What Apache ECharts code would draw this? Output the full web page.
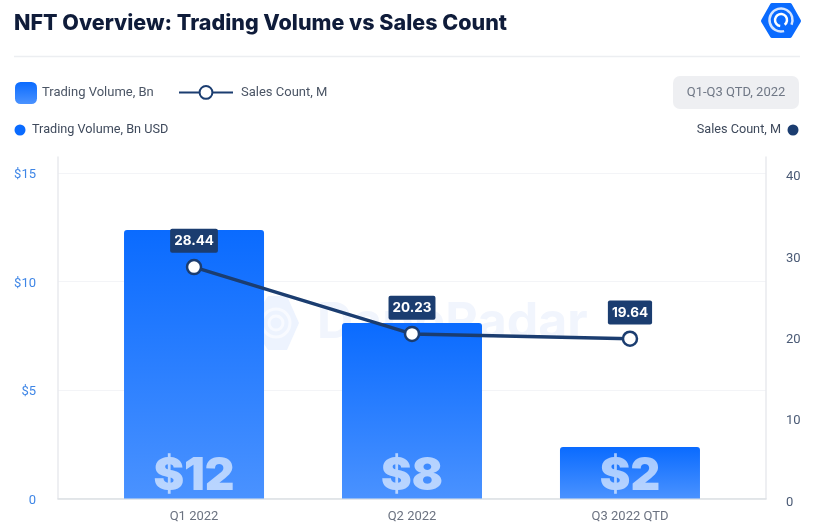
<!DOCTYPE html>
<html>
<head>
<meta charset="utf-8">
<style>
html, body { margin: 0; padding: 0; background: #fff; }
#chart { width: 815px; height: 532px; }
</style>
<script src="https://cdn.jsdelivr.net/npm/echarts@6/dist/echarts.min.js"></script>
</head>
<body>
<div id="chart"></div>
<script>
// values
var categories = ['Q1 2022', 'Q2 2022', 'Q3 2022 QTD'];
var tradingVolume = [12.37, 8.09, 2.37];
var volumeLabels = ['$12', '$8', '$2'];
var salesCount = [28.44, 20.23, 19.64];

var barName = 'Trading Volume, Bn';
var lineName = 'Sales Count, M';
var navy = '#1b3d70';
var uiFont = 'Roboto';

function withIndex(arr) {
    return arr.map(function (v, i) { return [i, v]; });
}

var chart = echarts.init(document.getElementById('chart'), null, { renderer: 'canvas' });

chart.setOption({
    animation: false,
    backgroundColor: '#fff',
    title: {
        text: 'NFT Overview: Trading Volume vs Sales Count',
        left: 9,
        top: 8,
        textStyle: { fontFamily: 'Inter', fontWeight: 800, fontSize: 21.5, color: '#0f1c3a' }
    },
    legend: [{
        data: [barName],
        left: 10,
        top: 77,
        itemWidth: 22,
        itemHeight: 22,
        itemGap: 6,
        icon: 'roundRect',
        textStyle: { fontFamily: uiFont, fontSize: 13, color: '#4b5565' }
    }, {
        data: [lineName],
        left: 173,
        top: 80,
        itemWidth: 54,
        itemHeight: 16,
        textStyle: { fontFamily: uiFont, fontSize: 13, color: '#4b5565', padding: [0, 0, 0, 3] }
    }],
    grid: { left: 58, right: 49, top: 157, bottom: 33.5 },
    xAxis: {
        type: 'value',
        min: -0.624,
        max: 2.624,
        splitLine: { show: false },
        axisTick: { show: false },
        axisLine: { show: true, lineStyle: { color: '#dcdfe4', width: 1.5 } },
        axisLabel: {
            customValues: [0, 1, 2],
            margin: 12,
            fontFamily: uiFont,
            fontSize: 13,
            color: '#6b7280',
            formatter: function (v) { return categories[v]; }
        }
    },
    yAxis: [{
        type: 'value',
        min: 0,
        max: 15.74,
        interval: 5,
        axisLine: { show: true, onZero: false, lineStyle: { color: '#e8eaee', width: 1.5 } },
        axisTick: { show: false },
        splitLine: { show: true, showMaxLine: false, lineStyle: { color: '#f3f4f7' } },
        axisLabel: {
            showMaxLabel: false,
            margin: 22,
            verticalAlign: 'top',
            lineHeight: 4,
            fontFamily: uiFont,
            fontSize: 13,
            color: '#3f86e6',
            formatter: function (v) { return v === 0 ? '0' : '$' + v; }
        }
    }, {
        type: 'value',
        min: 0,
        max: 41.97,
        interval: 10,
        position: 'right',
        axisLine: { show: true, onZero: false, lineStyle: { color: '#e8eaee', width: 1.5 } },
        axisTick: { show: false },
        splitLine: { show: false },
        axisLabel: {
            showMaxLabel: false,
            margin: 20,
            verticalAlign: 'top',
            lineHeight: 8,
            fontFamily: uiFont,
            fontSize: 13,
            color: '#4a5a75'
        }
    }],
    series: [{
        name: barName,
        type: 'bar',
        yAxisIndex: 0,
        barWidth: 140,
        data: withIndex(tradingVolume),
        itemStyle: {
            borderRadius: [3, 3, 0, 0],
            color: new echarts.graphic.LinearGradient(0, 0, 0, 1, [
                { offset: 0, color: '#0a6bff' },
                { offset: 1, color: '#4a92ff' }
            ])
        },
        label: {
            show: true,
            position: 'insideBottom',
            distance: -1,
            fontFamily: 'Inter',
            fontWeight: 900,
            fontSize: 46,
            color: 'rgba(255,255,255,0.62)',
            formatter: function (p) { return volumeLabels[p.dataIndex]; }
        }
    }, {
        name: lineName,
        type: 'line',
        yAxisIndex: 1,
        data: withIndex(salesCount),
        symbol: 'circle',
        symbolSize: 14,
        lineStyle: { color: navy, width: 3.5 },
        itemStyle: { color: '#fff', borderColor: navy, borderWidth: 2.5 },
        label: {
            show: true,
            position: 'top',
            distance: 6,
            fontFamily: 'Inter',
            fontWeight: 700,
            fontSize: 13.5,
            color: '#fff',
            backgroundColor: navy,
            borderRadius: 2,
            padding: [5, 4, 5, 4],
            formatter: function (p) { return salesCount[p.dataIndex].toFixed(2); }
        }
    }],
    graphic: [
        // divider under the title
        { type: 'line', shape: { x1: 14, y1: 56.5, x2: 800, y2: 56.5 }, style: { stroke: '#eceef1', lineWidth: 1.5 } },
        // period badge
        { type: 'rect', shape: { x: 673, y: 76, width: 126, height: 33, r: 7 }, style: { fill: '#eeeff2' } },
        { type: 'text', x: 736, y: 92.5, style: { text: 'Q1-Q3 QTD, 2022', fill: '#6f7785', font: '13px Roboto', align: 'center', verticalAlign: 'middle' } },
        // axis captions
        { type: 'circle', shape: { cx: 20, cy: 130, r: 5.5 }, style: { fill: '#0a6bff' } },
        { type: 'text', x: 32, y: 130, style: { text: 'Trading Volume, Bn USD', fill: '#3f4a5c', font: '12.7px Roboto', verticalAlign: 'middle' } },
        { type: 'circle', shape: { cx: 793, cy: 130, r: 5.5 }, style: { fill: navy } },
        { type: 'text', x: 781, y: 130, style: { text: 'Sales Count, M', fill: '#3f4a5c', font: '12.7px Roboto', align: 'right', verticalAlign: 'middle' } },
        // logo
        { type: 'polygon', shape: { points: [[763, 21], [772, 5], [790, 5], [799, 21], [790, 36], [772, 36]] }, style: { fill: '#0a6bff', stroke: '#0a6bff', lineWidth: 4, lineJoin: 'round' } },
        { type: 'arc', shape: { cx: 781, cy: 20, r: 11.5, startAngle: 1.3, endAngle: 6.7 }, style: { stroke: '#d5e5ff', fill: 'none', lineWidth: 2.5 } },
        { type: 'arc', shape: { cx: 781, cy: 20, r: 6, startAngle: 1.7, endAngle: 7.2 }, style: { stroke: '#fff', fill: 'none', lineWidth: 2.5 } },
        // faint watermark behind the marks
        { type: 'polygon', z: -1, shape: { points: [[250, 323], [268, 296], [287, 296], [299, 323], [287, 350], [268, 350]] }, style: { fill: '#edf3fe' } },
        { type: 'arc', z: -1, shape: { cx: 276, cy: 323, r: 14, startAngle: 0, endAngle: 6.3 }, style: { stroke: '#f8faff', fill: 'none', lineWidth: 3 } },
        { type: 'arc', z: -1, shape: { cx: 276, cy: 323, r: 7, startAngle: 0, endAngle: 6.3 }, style: { stroke: '#f8faff', fill: 'none', lineWidth: 3 } },
        { type: 'text', z: -1, x: 317, y: 323, style: { text: 'DappRadar', fill: '#f1f5fd', font: '700 50px Inter', verticalAlign: 'middle' } }
    ]
});
</script>
</body>
</html>
